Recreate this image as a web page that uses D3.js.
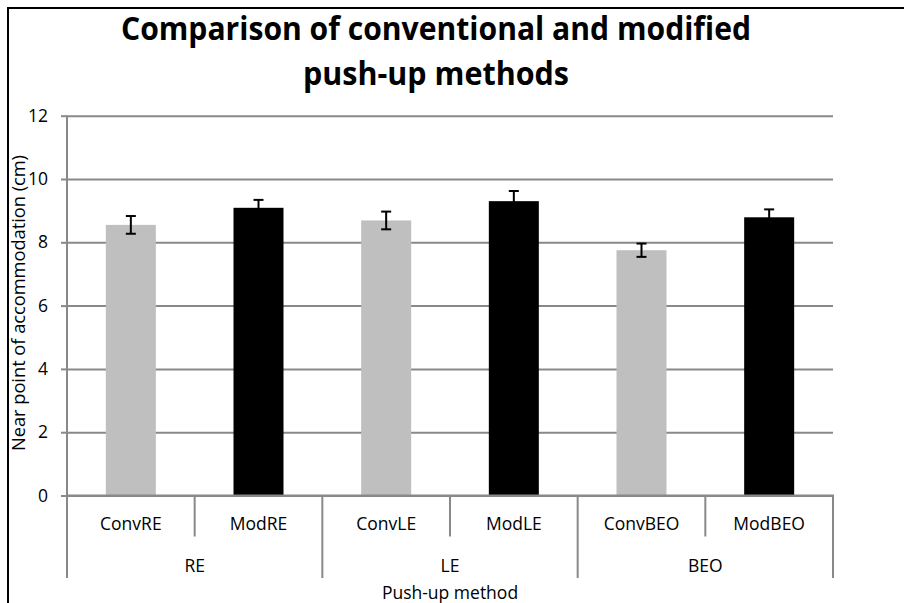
<!DOCTYPE html>
<html>
<head>
<meta charset="utf-8">
<script src="https://cdn.jsdelivr.net/npm/d3@7"></script>
<style>
  html, body { margin: 0; padding: 0; background: #fff; }
  svg { display: block; }
  text { font-family: "Open Sans", "Noto Sans", sans-serif; fill: #000; }
</style>
</head>
<body>
<svg id="chart" width="904" height="603"></svg>
<script>
// ---- data ----
const titleLines = ["Comparison of conventional and modified", "push-up methods"];
const categories = ["ConvRE", "ModRE", "ConvLE", "ModLE", "ConvBEO", "ModBEO"];
const groups = ["RE", "LE", "BEO"];
const means = [8.55, 9.09, 8.69, 9.30, 7.75, 8.79];
const errors = [0.28, 0.25, 0.28, 0.32, 0.21, 0.25];
const methods = ["Conv", "Mod", "Conv", "Mod", "Conv", "Mod"];
const yTicks = [0, 2, 4, 6, 8, 10, 12];
const yLabel = "Near point of accommodation (cm)";
const xLabel = "Push-up method";

// ---- layout ----
const W = 904, H = 603;
const plot = { left: 67, right: 833, top: 115.7, bottom: 495.5 };
const gridColor = "#898989";
const colors = { Conv: "#bfbfbf", Mod: "#000000" };

const svg = d3.select("#chart");
svg.append("rect").attr("width", W).attr("height", H).attr("fill", "#fff");

const x = d3.scaleBand().domain(categories).range([plot.left, plot.right]);
const xg = d3.scaleBand().domain(groups).range([plot.left, plot.right]);
const y = d3.scaleLinear().domain([0, 12]).range([plot.bottom, plot.top]);
const barW = 50;

// gridlines
const grid = svg.append("g").attr("transform", `translate(${plot.left},0)`)
  .call(d3.axisRight(y).tickValues(yTicks).tickSize(plot.right - plot.left).tickFormat(""));
grid.select(".domain").remove();
grid.selectAll(".tick line").attr("stroke", gridColor).attr("stroke-width", 2);

// y axis
const ya = svg.append("g").attr("transform", `translate(${plot.left},0)`)
  .call(d3.axisLeft(y).tickValues(yTicks).tickSize(6).tickPadding(13).tickFormat(d3.format("d")));
ya.select(".domain").remove();
ya.selectAll(".tick line").attr("stroke", gridColor).attr("stroke-width", 2);
ya.selectAll(".tick text").attr("font-size", 17.5).attr("font-family", '"Open Sans", sans-serif').attr("fill", "#000");

// bars
const idx = d3.range(categories.length);
svg.append("g").selectAll("rect").data(idx).join("rect")
  .attr("x", i => x(categories[i]) + (x.bandwidth() - barW) / 2)
  .attr("width", barW)
  .attr("y", i => y(means[i]))
  .attr("height", i => y(0) - y(means[i]))
  .attr("fill", i => colors[methods[i]]);

// error bars
const eb = svg.append("g").attr("stroke", "#000").attr("stroke-width", 2).attr("fill", "none");
idx.forEach(i => {
  const cx = x(categories[i]) + x.bandwidth() / 2;
  const y1 = y(means[i] + errors[i]), y2 = y(means[i] - errors[i]);
  eb.append("line").attr("x1", cx).attr("x2", cx).attr("y1", y1).attr("y2", y2);
  eb.append("line").attr("x1", cx - 5).attr("x2", cx + 5).attr("y1", y1).attr("y2", y1);
  eb.append("line").attr("x1", cx - 5).attr("x2", cx + 5).attr("y1", y2).attr("y2", y2);
});

// axis lines
const axes = svg.append("g").attr("stroke", gridColor).attr("stroke-width", 2);
axes.append("line").attr("x1", plot.left).attr("x2", plot.left).attr("y1", plot.top).attr("y2", plot.bottom);
axes.append("line").attr("x1", plot.left - 1).attr("x2", plot.right + 1).attr("y1", plot.bottom).attr("y2", plot.bottom);

// category dividers (between the two bars of a group)
categories.forEach((c, i) => {
  if (i % 2 === 1) {
    const xx = x(c);
    axes.append("line").attr("x1", xx).attr("x2", xx).attr("y1", plot.bottom).attr("y2", 536.5);
  }
});
// group dividers
const gEdges = groups.map(g => xg(g)).concat([plot.right]);
gEdges.forEach(xx => {
  axes.append("line").attr("x1", xx).attr("x2", xx).attr("y1", plot.bottom).attr("y2", 578);
});

// category labels
const xa = svg.append("g").attr("transform", `translate(0,${plot.bottom})`)
  .call(d3.axisBottom(x).tickSize(0).tickPadding(22));
xa.select(".domain").remove();
xa.selectAll(".tick text").attr("font-size", 17.5).attr("font-family", '"Open Sans", sans-serif').attr("fill", "#000");

// group labels
const xga = svg.append("g").attr("transform", `translate(0,${plot.bottom})`)
  .call(d3.axisBottom(xg).tickSize(0).tickPadding(64));
xga.select(".domain").remove();
xga.selectAll(".tick text").attr("font-size", 17.5).attr("font-family", '"Open Sans", sans-serif').attr("fill", "#000");

// axis titles
svg.append("text").attr("x", (plot.left + plot.right) / 2).attr("y", 598.5)
  .attr("text-anchor", "middle").attr("font-size", 17.5).text(xLabel);
svg.append("text").attr("transform", "translate(25,303) rotate(-90)")
  .attr("text-anchor", "middle").attr("font-size", 18.5)
  .attr("textLength", 296).attr("lengthAdjust", "spacingAndGlyphs").text(yLabel);

// title
const titleBase = [40, 85];
const titleWidths = [630, 266];
titleLines.forEach((t, i) => {
  svg.append("text").attr("x", 436).attr("y", titleBase[i])
    .attr("text-anchor", "middle").attr("font-size", 32).attr("font-weight", "bold")
    .attr("textLength", titleWidths[i]).attr("lengthAdjust", "spacingAndGlyphs").text(t);
});

// outer border (chart area edge)
svg.append("path").attr("d", `M8,${H} V8 H${W}`).attr("fill", "none").attr("stroke", "#000").attr("stroke-width", 2);
</script>
</body>
</html>
